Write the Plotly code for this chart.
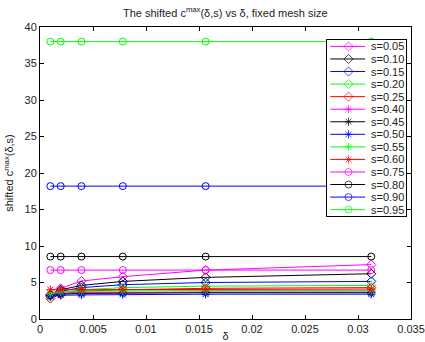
import plotly.graph_objects as go

delta = [1/1024, 1/512, 1/256, 1/128, 1/64, 1/32]

s_labels = ["s=0.05", "s=0.10", "s=0.15", "s=0.20", "s=0.25", "s=0.40", "s=0.45",
            "s=0.50", "s=0.55", "s=0.60", "s=0.75", "s=0.80", "s=0.90", "s=0.95"]

c_005 = [3.3, 4.2, 5.2, 5.8, 6.7, 7.45]
c_010 = [3.3, 4.0, 4.6, 5.15, 5.7, 6.2]
c_015 = [3.2, 3.8, 4.3, 4.7, 5.0, 5.15]
c_020 = [3.1, 3.6, 4.0, 4.3, 4.5, 4.6]
c_025 = [2.8, 3.4, 3.8, 4.0, 4.2, 4.3]
c_040 = [3.3, 3.5, 3.6, 3.65, 3.7, 3.7]
c_045 = [3.2, 3.4, 3.5, 3.55, 3.6, 3.6]
c_050 = [3.1, 3.25, 3.3, 3.35, 3.4, 3.4]
c_055 = [3.5, 3.7, 3.8, 3.85, 3.9, 3.9]
c_060 = [4.0, 4.0, 4.0, 4.05, 4.1, 4.1]
c_075 = [6.7, 6.7, 6.7, 6.7, 6.7, 6.7]
c_080 = [8.55, 8.55, 8.55, 8.55, 8.55, 8.55]
c_090 = [18.2, 18.2, 18.2, 18.2, 18.2, 18.2]
c_095 = [38.0, 38.0, 38.0, 38.0, 38.0, 38.0]

series = [c_005, c_010, c_015, c_020, c_025, c_040, c_045,
          c_050, c_055, c_060, c_075, c_080, c_090, c_095]

colors = ["#ff00ff", "#000000", "#0000ff", "#00ff00", "#ff0000",
          "#ff00ff", "#000000", "#0000ff", "#00ff00", "#ff0000",
          "#ff00ff", "#000000", "#0000ff", "#00ff00"]
symbols = ["diamond-open"] * 5 + ["asterisk-open"] * 5 + ["circle-open"] * 4

fig = go.Figure()
for name, ys, col, sym in zip(s_labels, series, colors, symbols):
    fig.add_trace(go.Scatter(
        x=delta, y=ys, name=name, mode="lines+markers", showlegend=False,
        line=dict(color=col, width=1),
        marker=dict(symbol=sym, size=7, color=col, line=dict(color=col, width=1)),
    ))

# Legend drawn as an inset subplot (MATLAB-style compact legend)
n = len(s_labels)
for i, (name, col, sym) in enumerate(zip(s_labels, colors, symbols)):
    yy = n - i - 0.5
    fig.add_trace(go.Scatter(
        x=[0.04, 0.27, 0.48], y=[yy, yy, yy], mode="lines+markers",
        xaxis="x2", yaxis="y2", showlegend=False, hoverinfo="skip",
        line=dict(color=col, width=1),
        marker=dict(symbol=sym, size=[0, 7, 0], color=col, line=dict(color=col, width=1)),
    ))
    fig.add_annotation(x=0.53, y=yy, xref="x2", yref="y2", text=name,
                       showarrow=False, xanchor="left", yanchor="middle",
                       font=dict(size=11, color="#222"))

axis_common = dict(
    showline=True, linecolor="black", linewidth=1, mirror="ticks",
    ticks="inside", ticklen=4, tickcolor="black", showgrid=False, zeroline=False,
    tickfont=dict(size=11, color="#222"), automargin=False,
)

fig.update_layout(
    width=425, height=342,
    margin=dict(l=40, r=14, t=27, b=23),
    paper_bgcolor="white", plot_bgcolor="white",
    font=dict(family="Liberation Sans, Arial, sans-serif", size=11, color="#222"),
    title=dict(text="The shifted c<sup>max</sup>(δ,s) vs δ, fixed mesh size",
               x=0.53, xanchor="center", y=0.962, yanchor="middle",
               font=dict(size=11)),
    xaxis=dict(range=[0, 0.035], dtick=0.005, tickformat="~g",
               title=dict(text="δ", standoff=14, font=dict(size=11)), **axis_common),
    yaxis=dict(range=[0, 40], dtick=5,
               title=dict(text="shifted c<sup>max</sup>(δ,s)", standoff=8, font=dict(size=11)),
               **axis_common),
    xaxis2=dict(domain=[0.774, 0.987], anchor="y2", range=[0, 1],
                showline=True, mirror=True, linecolor="black", linewidth=1,
                showticklabels=False, ticks="", showgrid=False, zeroline=False, fixedrange=True),
    yaxis2=dict(domain=[0.353, 0.955], anchor="x2", range=[0, n],
                showline=True, mirror=True, linecolor="black", linewidth=1,
                showticklabels=False, ticks="", showgrid=False, zeroline=False, fixedrange=True),
    showlegend=False,
)

fig.write_html("out.html")
